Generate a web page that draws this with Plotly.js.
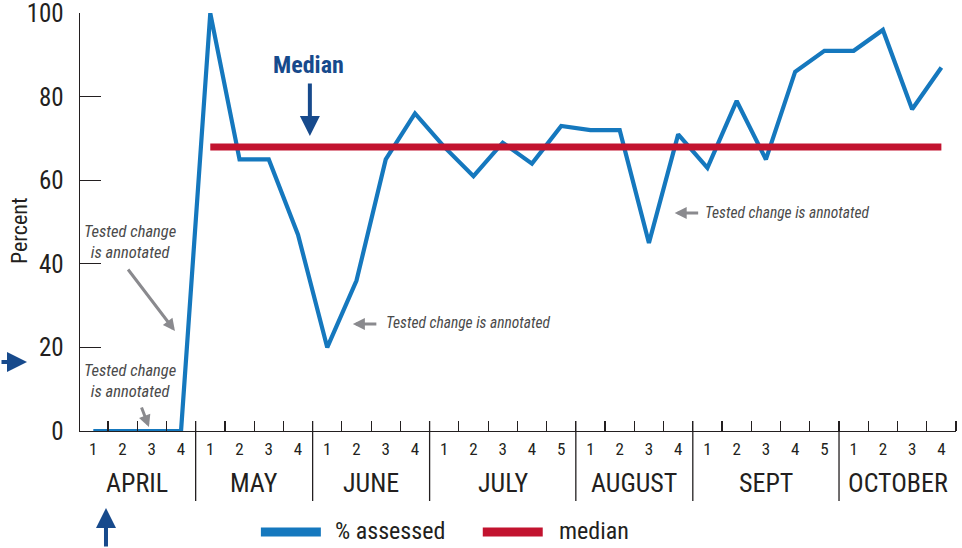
<!DOCTYPE html>
<html>
<head>
<meta charset="utf-8">
<script src="https://cdn.plot.ly/plotly-3.0.1.min.js"></script>
<style>html,body{margin:0;padding:0;background:#fff;}#chart{width:962px;height:548px;}</style>
</head>
<body>
<div id="chart"></div>
<script>
// ---- data ----
const months = ['APRIL', 'MAY', 'JUNE', 'JULY', 'AUGUST', 'SEPT', 'OCTOBER'];
const weeksPerMonth = [4, 4, 4, 5, 4, 5, 4];
const weekLabels = ['1','2','3','4', '1','2','3','4', '1','2','3','4', '1','2','3','4','5', '1','2','3','4', '1','2','3','4','5', '1','2','3','4'];
const assessed = [0, 0, 0, 0, 100, 65, 65, 47, 20, 36, 65, 76, 68, 61, 69, 64, 73, 72, 72, 45, 71, 63, 79, 65, 86, 91, 91, 96, 77, 87];
const medianValue = 68;
const medianStartIndex = 4;   // median line starts at May week 1
const yTicks = [0, 20, 40, 60, 80, 100];
const yTitle = 'Percent';

// ---- geometry helpers ----
const W = 962, H = 548;
const M = {l: 80, r: 5.5, t: 13, b: 117, pad: 0};
const pw = W - M.l - M.r, ph = H - M.t - M.b;
const fx = px => (px - M.l) / pw;
const fy = py => (H - M.b - py) / ph;

const FONT = '"Liberation Sans Narrow", "Arial Narrow", "Roboto Condensed", "Liberation Sans", Arial, sans-serif';
const INK = '#231f20';
const BLUE = '#1578be';
const RED = '#c2132f';
const DARKBLUE = '#174a8c';
const GREY = '#8a8a8e';
const TEXTGREY = '#4a4a4a';

const xIdx = assessed.map((_, i) => i);
const medX = xIdx.slice(medianStartIndex);
const medY = medX.map(() => medianValue);

// month boundaries and centers
const bounds = [];
const centers = [];
let acc = 0;
weeksPerMonth.forEach((n, k) => {
  centers.push(acc + (n - 1) / 2);
  acc += n;
  if (k < weeksPerMonth.length - 1) bounds.push(acc - 0.5);
});
const halfTicks = [];
for (let i = 0; i < assessed.length; i++) halfTicks.push(i + 0.5);

const traces = [
  {x: xIdx, y: assessed, type: 'scatter', mode: 'lines', name: '% assessed',
   line: {color: BLUE, width: 4.2}, cliponaxis: false, showlegend: false},
  {x: medX, y: medY, type: 'scatter', mode: 'lines', name: 'median',
   line: {color: RED, width: 7}, cliponaxis: false, showlegend: false}
];

const shapes = bounds.map(b => ({
  type: 'line', xref: 'x', yref: 'paper', x0: b, x1: b, y0: fy(501), y1: fy(421),
  line: {color: INK, width: 1.3}
}));
// legend keys
shapes.push({type: 'line', xref: 'paper', yref: 'paper', x0: fx(261), x1: fx(321), y0: fy(532), y1: fy(532), line: {color: BLUE, width: 9}});
shapes.push({type: 'line', xref: 'paper', yref: 'paper', x0: fx(483), x1: fx(543), y0: fy(532), y1: fy(532), line: {color: RED, width: 9}});

const annotations = [];
// y-axis title
annotations.push({text: yTitle, xref: 'paper', yref: 'paper', x: fx(20), y: fy(231), textangle: -90,
  showarrow: false, xanchor: 'center', yanchor: 'middle', font: {family: FONT, size: 22, color: INK}});
months.forEach((m, k) => annotations.push({
  text: m, xref: 'x', yref: 'paper', x: centers[k], y: fy(483), showarrow: false,
  xanchor: 'center', yanchor: 'middle', font: {family: FONT, size: 26, color: INK}
}));
// legend text
annotations.push({text: '% assessed', xref: 'paper', yref: 'paper', x: fx(333), y: fy(531), showarrow: false,
  xanchor: 'left', yanchor: 'middle', font: {family: FONT, size: 24, color: INK}});
annotations.push({text: 'median', xref: 'paper', yref: 'paper', x: fx(557), y: fy(531), showarrow: false,
  xanchor: 'left', yanchor: 'middle', font: {family: FONT, size: 24, color: INK}});
// Median label + arrow
annotations.push({text: '<b>Median</b>', xref: 'paper', yref: 'paper', x: fx(309), y: fy(65), showarrow: false,
  xanchor: 'center', yanchor: 'middle', font: {family: FONT, size: 24, color: DARKBLUE}});
annotations.push({text: '', xref: 'paper', yref: 'paper', x: fx(310), y: fy(136), ax: 0, ay: -54,
  showarrow: true, arrowhead: 2, arrowsize: 1, arrowwidth: 4, arrowcolor: DARKBLUE});
// left & bottom dark blue arrows
annotations.push({text: '', xref: 'paper', yref: 'paper', x: fx(27), y: fy(362), ax: -40, ay: 0,
  showarrow: true, arrowhead: 2, arrowsize: 1, arrowwidth: 4, arrowcolor: DARKBLUE});
annotations.push({text: '', xref: 'paper', yref: 'paper', x: fx(106), y: fy(508), ax: 0, ay: 50,
  showarrow: true, arrowhead: 2, arrowsize: 1, arrowwidth: 4, arrowcolor: DARKBLUE});
// tested change notes
const noteFont = {family: FONT, size: 15.5, color: TEXTGREY};
const noteFont2 = {family: FONT, size: 16.5, color: TEXTGREY};
annotations.push({text: '<i>Tested change is annotated</i>', xref: 'paper', yref: 'paper', x: fx(384), y: fy(323),
  showarrow: false, xanchor: 'left', yanchor: 'middle', font: noteFont});
annotations.push({text: '', xref: 'paper', yref: 'paper', x: fx(353), y: fy(324), ax: 25, ay: 0,
  showarrow: true, arrowhead: 2, arrowsize: 0.8, arrowwidth: 3, arrowcolor: GREY});
annotations.push({text: '<i>Tested change is annotated</i>', xref: 'paper', yref: 'paper', x: fx(703), y: fy(213),
  showarrow: false, xanchor: 'left', yanchor: 'middle', font: noteFont});
annotations.push({text: '', xref: 'paper', yref: 'paper', x: fx(675), y: fy(213), ax: 25, ay: 0,
  showarrow: true, arrowhead: 2, arrowsize: 0.8, arrowwidth: 3, arrowcolor: GREY});
annotations.push({text: '<i>Tested change<br>is annotated</i>', xref: 'paper', yref: 'paper', x: fx(130), y: fy(242),
  showarrow: false, xanchor: 'center', yanchor: 'middle', align: 'center', font: noteFont2});
annotations.push({text: '', xref: 'paper', yref: 'paper', x: fx(175), y: fy(331), ax: -48, ay: -63,
  showarrow: true, arrowhead: 2, arrowsize: 0.8, arrowwidth: 3, arrowcolor: GREY});
annotations.push({text: '<i>Tested change<br>is annotated</i>', xref: 'paper', yref: 'paper', x: fx(130), y: fy(381),
  showarrow: false, xanchor: 'center', yanchor: 'middle', align: 'center', font: noteFont2});
annotations.push({text: '', xref: 'paper', yref: 'paper', x: fx(149), y: fy(427), ax: -8, ay: -21,
  showarrow: true, arrowhead: 2, arrowsize: 0.8, arrowwidth: 3, arrowcolor: GREY});

const layout = {
  width: W, height: H, margin: M,
  paper_bgcolor: '#fff', plot_bgcolor: '#fff',
  font: {family: FONT, color: INK},
  showlegend: false,
  xaxis: {
    range: [-0.455, 29.5], tickmode: 'array', tickvals: xIdx, ticktext: weekLabels,
    ticks: '', showgrid: false, zeroline: false, showline: true, linecolor: INK, linewidth: 1.3,
    tickfont: {family: FONT, size: 17, color: INK}, ticklabelstandoff: 2,
    minor: {tickmode: 'array', tickvals: halfTicks, ticks: 'inside', ticklen: 10, tickwidth: 1.2, tickcolor: INK, showgrid: false},
    fixedrange: true
  },
  yaxis: {
    range: [0, 100.05], tickmode: 'array', tickvals: yTicks,
    ticks: 'inside', ticklen: 21, tickwidth: 1.2, tickcolor: INK,
    showgrid: false, zeroline: false, showline: true, linecolor: INK, linewidth: 1.3,
    tickfont: {family: FONT, size: 25, color: INK}, ticklabelstandoff: 10,
    ticklabeloverflow: 'allow',
    fixedrange: true
  },
  shapes: shapes,
  annotations: annotations
};

Plotly.newPlot('chart', traces, layout, {displayModeBar: false, staticPlot: true});
</script>
</body>
</html>
